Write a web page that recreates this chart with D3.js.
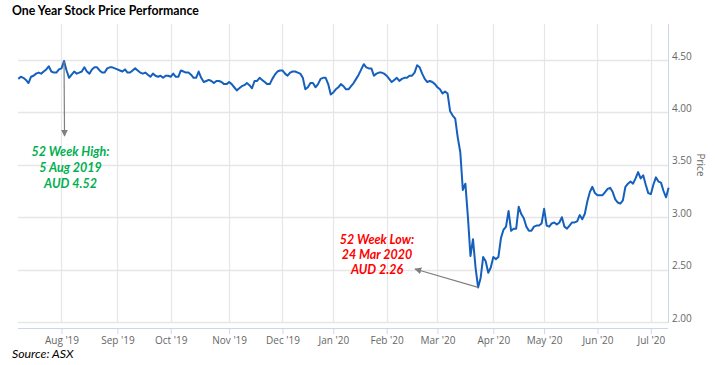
<!DOCTYPE html>
<html><head><meta charset="utf-8">
<script src="https://cdn.jsdelivr.net/npm/d3@7"></script>
<style>body{margin:0;background:#fff}svg{display:block}</style>
</head><body>
<script>
const title = "One Year Stock Price Performance";
const source = "Source: ASX";
const monthLabels = ["Aug '19","Sep '19","Oct '19","Nov '19","Dec '19","Jan '20","Feb '20","Mar '20","Apr '20","May '20","Jun '20","Jul '20"];
const monthStartDay = [17,39,60,83,104,124,145,165,187,207,228,249];
const yTicks = [2.00,2.50,3.00,3.50,4.00,4.50];
// daily closing prices (trading days, 9 Jul 2019 - 10 Jul 2020)
const prices = [
4.32,4.34,4.33,4.31,4.28,4.34,4.35,4.37,4.38,4.37,
4.39,4.41,4.44,4.39,4.38,4.38,4.41,4.42,4.49,4.40,
4.33,4.36,4.39,4.37,4.38,4.39,4.43,4.39,4.37,4.41,
4.43,4.43,4.40,4.38,4.38,4.42,4.43,4.43,4.42,4.41,
4.40,4.39,4.41,4.38,4.38,4.40,4.42,4.40,4.38,4.37,
4.38,4.36,4.34,4.37,4.35,4.34,4.35,4.33,4.35,4.35,
4.34,4.37,4.34,4.34,4.40,4.39,4.38,4.38,4.36,4.33,
4.33,4.39,4.33,4.29,4.30,4.31,4.30,4.28,4.30,4.30,
4.29,4.27,4.27,4.29,4.27,4.24,4.21,4.23,4.25,4.26,
4.28,4.26,4.23,4.30,4.30,4.33,4.31,4.29,4.27,4.27,
4.32,4.36,4.39,4.40,4.40,4.37,4.35,4.38,4.39,4.39,
4.38,4.37,4.33,4.22,4.24,4.28,4.28,4.24,4.27,4.32,
4.33,4.33,4.27,4.17,4.19,4.22,4.24,4.27,4.25,4.22,
4.22,4.25,4.28,4.32,4.36,4.41,4.46,4.43,4.42,4.42,
4.35,4.37,4.38,4.38,4.37,4.35,4.32,4.29,4.31,4.33,
4.30,4.32,4.33,4.33,4.35,4.35,4.38,4.45,4.43,4.37,
4.32,4.29,4.30,4.29,4.27,4.24,4.22,4.18,4.20,4.18,
4.01,3.97,3.94,3.76,3.62,3.26,3.32,3.00,2.63,2.79,
2.52,2.33,2.42,2.62,2.58,2.47,2.52,2.62,2.60,2.62,
2.80,2.88,2.91,3.06,2.87,2.89,2.89,3.10,3.03,2.99,
2.91,2.87,2.87,2.91,2.92,2.92,2.94,3.08,2.92,2.91,
2.94,2.95,2.93,2.95,3.00,2.91,2.89,2.92,2.95,2.95,
2.96,3.02,2.98,3.03,3.15,3.24,3.29,3.23,3.21,3.21,
3.21,3.24,3.27,3.28,3.24,3.17,3.14,3.13,3.16,3.29,
3.32,3.34,3.32,3.37,3.43,3.37,3.40,3.31,3.23,3.22,
3.31,3.38,3.34,3.33,3.25,3.19,3.28
];
const highDay = 18, lowDay = 181;
const highText = ["52 Week High:","5 Aug 2019","AUD 4.52"];
const lowText = ["52 Week Low:","24 Mar 2020","AUD 2.26"];

const W = 715, H = 365;
const svg = d3.select("body").append("svg").attr("width", W).attr("height", H);
const x = d3.scaleLinear().domain([0, prices.length - 1]).range([18.3, 668.6]);
const y = d3.scaleLinear().domain([2, 4.5]).range([322, 60]);
const plotTop = 24, plotLeft = 18, plotRight = 668, axisY = 328;
const font = "'Open Sans', 'DejaVu Sans', sans-serif";

// gridlines
svg.append("g").selectAll("line.h").data(yTicks).join("line")
  .attr("x1", plotLeft).attr("x2", plotRight)
  .attr("y1", d => Math.round(y(d)) + 0.5).attr("y2", d => Math.round(y(d)) + 0.5)
  .attr("stroke", "#e6e6e6").attr("stroke-width", 1.5);
svg.append("g").selectAll("line.v").data(monthStartDay).join("line")
  .attr("x1", d => Math.round(x(d)) + 0.5).attr("x2", d => Math.round(x(d)) + 0.5)
  .attr("y1", plotTop).attr("y2", y(2))
  .attr("stroke", "#e6e6e6").attr("stroke-width", 1.2);

// right axis line
svg.append("line").attr("x1", plotRight + 0.5).attr("x2", plotRight + 0.5)
  .attr("y1", plotTop).attr("y2", y(2) + 1).attr("stroke", "#ccd6eb");
// bottom axis
const xAxis = d3.axisBottom(x).tickValues(monthStartDay)
  .tickFormat((d, i) => monthLabels[i]).tickSize(6).tickSizeOuter(0).tickPadding(3);
const gx = svg.append("g").attr("transform", `translate(0,${axisY})`).call(xAxis);
gx.select(".domain").attr("stroke", "#ccd6eb").attr("d", `M${plotLeft},0.5H${plotRight}`);
gx.selectAll(".tick line").attr("stroke", "#ccd6eb");
gx.selectAll(".tick text").attr("fill", "#666").style("font-family", font).style("font-size", "10px");

// y labels
const yAxis = d3.axisRight(y).tickValues(yTicks).tickFormat(d3.format(".2f")).tickSize(0).tickPadding(4);
const gy = svg.append("g").attr("transform", `translate(${plotRight},0)`).call(yAxis);
gy.select(".domain").remove();
gy.selectAll(".tick text").attr("fill", "#666").attr("dy", "-0.1em")
  .style("font-family", font).style("font-size", "10px");
svg.append("text").text("Price").attr("transform", `translate(697,165) rotate(90)`)
  .attr("text-anchor", "middle").attr("fill", "#666")
  .style("font-family", font).style("font-size", "10px");

// line
const line = d3.line().x((d, i) => x(i)).y(d => y(d));
svg.append("path").datum(prices).attr("d", line)
  .attr("fill", "none").attr("stroke", "#1560bd").attr("stroke-width", 2)
  .attr("stroke-linejoin", "round");

// arrows
const defs = svg.append("defs");
defs.append("marker").attr("id", "ah").attr("viewBox", "0 0 10 10").attr("refX", 9).attr("refY", 5)
  .attr("markerWidth", 7).attr("markerHeight", 7).attr("orient", "auto")
  .attr("markerUnits", "userSpaceOnUse")
  .append("path").attr("d", "M0,0L10,5L0,10z").attr("fill", "#7f7f7f");
const hx = x(highDay), hy = y(prices[highDay]);
svg.append("line").attr("x1", hx).attr("y1", hy + 1).attr("x2", hx + 0.5).attr("y2", 136)
  .attr("stroke", "#7f7f7f").attr("stroke-width", 1.2).attr("marker-end", "url(#ah)");
const lx = x(lowDay), ly = y(prices[lowDay]);
svg.append("line").attr("x1", lx).attr("y1", ly).attr("x2", 415).attr("y2", 269)
  .attr("stroke", "#7f7f7f").attr("stroke-width", 1.2).attr("marker-end", "url(#ah)");

// annotation texts
const annFont = "Lato, 'Open Sans', sans-serif";
svg.append("g").selectAll("text").data(highText).join("text")
  .attr("x", 70.5).attr("y", (d, i) => 156 + i * 16).attr("text-anchor", "middle")
  .attr("fill", "#00b050").style("font-family", annFont).style("font-size", "12.5px")
  .style("font-weight", "bold").style("font-style", "italic").text(d => d);
svg.append("g").selectAll("text").data(lowText).join("text")
  .attr("x", 377).attr("y", (d, i) => 244 + i * 15).attr("text-anchor", "middle")
  .attr("fill", "#ff0000").style("font-family", annFont).style("font-size", "12.5px")
  .style("font-weight", "bold").style("font-style", "italic").text(d => d);

// title & source
svg.append("text").text(title).attr("x", 12).attr("y", 15)
  .style("font-family", annFont).style("font-size", "12.3px").style("font-weight", "bold").attr("fill", "#000");
svg.append("text").text(source).attr("x", 12).attr("y", 358)
  .style("font-family", annFont).style("font-size", "12.3px").style("font-style", "italic").attr("fill", "#000");
</script>
</body></html>
